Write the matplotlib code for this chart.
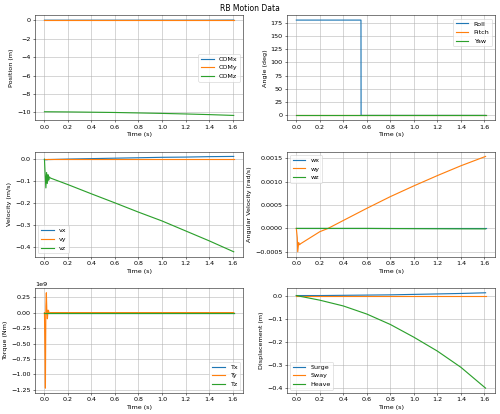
import numpy as np
import matplotlib.pyplot as plt

# time samples (s)
t = [0.0, 0.2, 0.4, 0.6, 0.8, 1.0, 1.2, 1.4, 1.61]

# position (m)
com_x = [0.0, 0.0, 0.0, 0.0, 0.0, 0.0, 0.0, 0.0, 0.01]
com_y = [0.0, 0.0, 0.0, 0.0, 0.0, 0.0, 0.0, 0.0, 0.0]
com_z = [-9.93, -9.95, -9.98, -10.01, -10.06, -10.11, -10.17, -10.24, -10.33]

# angles (deg)
t_ang = [0.0, 0.55, 0.551, 1.61]
roll = [180.0, 180.0, 0.0, 0.0]
pitch = [0.0, 0.0, 0.0, 0.0]
yaw = [0.0, 0.0, 0.0, 0.0]

# velocity (m/s)
t_vel = [0.0, 0.005, 0.012, 0.018, 0.024, 0.03, 0.036, 0.042, 0.05, 0.2, 0.4, 0.6, 0.8, 1.0, 1.2, 1.4, 1.61]
vx = [0.0, -0.002, -0.002, -0.002, -0.002, -0.001, -0.001, -0.001, -0.001, 0.001, 0.003, 0.005, 0.007, 0.009, 0.010, 0.012, 0.013]
vy = [0.0] * len(t_vel)
vz = [0.0, -0.06, -0.13, -0.06, -0.11, -0.07, -0.095, -0.08, -0.085, -0.115, -0.157, -0.198, -0.24, -0.28, -0.325, -0.37, -0.42]

# angular velocity (rad/s)
t_w = [0.0, 0.008, 0.012, 0.02, 0.028, 0.035, 0.2, 0.27, 0.4, 0.6, 0.8, 1.0, 1.2, 1.4, 1.61]
wx = [0.0] * len(t_w)
wy = [0.0, -0.0002, -0.0005, -0.0003, -0.00035, -0.00033, -0.00007, 0.0, 0.00017, 0.00043, 0.00068, 0.00091, 0.00113, 0.00134, 0.00154]
wz = [0.0, 0.0, 0.0, 0.0, 0.0, 0.0, 0.0, 0.0, 0.0, 0.0, -0.000003, -0.000005, -0.000007, -0.000009, -0.00001]

# torque (Nm)
t_tq = [0.0, 0.004, 0.008, 0.012, 0.016, 0.02, 0.025, 0.03, 0.035, 0.04, 0.05, 1.61]
tx = [0.0] * len(t_tq)
ty = [0.0, -0.6e9, -1.22e9, 0.1e9, 0.32e9, 0.05e9, -0.1e9, 0.04e9, 0.03e9, -0.01e9, 0.0, 0.0]
tz = [0.0] * len(t_tq)

# displacement (m)
surge = [0.0, 0.0, 0.001, 0.002, 0.003, 0.005, 0.007, 0.009, 0.012]
sway = [0.0, 0.0, 0.0, 0.0, 0.0, 0.0, 0.0, 0.0, 0.0]
heave = [0.0, -0.02, -0.045, -0.08, -0.125, -0.18, -0.24, -0.31, -0.4]

plt.rcParams['lines.linewidth'] = 1.8

fig, axs = plt.subplots(3, 2, figsize=(10.87, 9.0), dpi=46)
fig.suptitle('RB Motion Data', y=0.99)

ax = axs[0, 0]
ax.plot(t, com_x, label='COMx')
ax.plot(t, com_y, label='COMy')
ax.plot(t, com_z, label='COMz')
ax.set_ylabel('Position (m)')
ax.legend(loc='center right')

ax = axs[0, 1]
ax.plot(t_ang, roll, label='Roll')
ax.plot(t_ang, pitch, label='Pitch')
ax.plot(t_ang, yaw, label='Yaw')
ax.set_ylabel('Angle (deg)')
ax.legend(loc='upper right')

ax = axs[1, 0]
ax.plot(t_vel, vx, label='vx')
ax.plot(t_vel, vy, label='vy')
ax.plot(t_vel, vz, label='vz')
ax.set_ylabel('Velocity (m/s)')
ax.legend(loc='lower left')

ax = axs[1, 1]
ax.plot(t_w, wx, label='wx')
ax.plot(t_w, wy, label='wy')
ax.plot(t_w, wz, label='wz')
ax.set_ylabel('Angular Velocity (rad/s)')
ax.legend(loc='upper left')

ax = axs[2, 0]
ax.plot(t_tq, tx, label='Tx')
ax.plot(t_tq, ty, label='Ty')
ax.plot(t_tq, tz, label='Tz')
ax.set_ylabel('Torque (Nm)')
ax.legend(loc='lower right')

ax = axs[2, 1]
ax.plot(t, surge, label='Surge')
ax.plot(t, sway, label='Sway')
ax.plot(t, heave, label='Heave')
ax.set_ylabel('Displacement (m)')
ax.legend(loc='lower left')

for ax in axs.flat:
    ax.set_xlabel('Time (s)')
    ax.grid(True)

plt.subplots_adjust(left=0.07, right=0.99, top=0.963, bottom=0.051, wspace=0.21, hspace=0.3)
plt.savefig('out.png')
